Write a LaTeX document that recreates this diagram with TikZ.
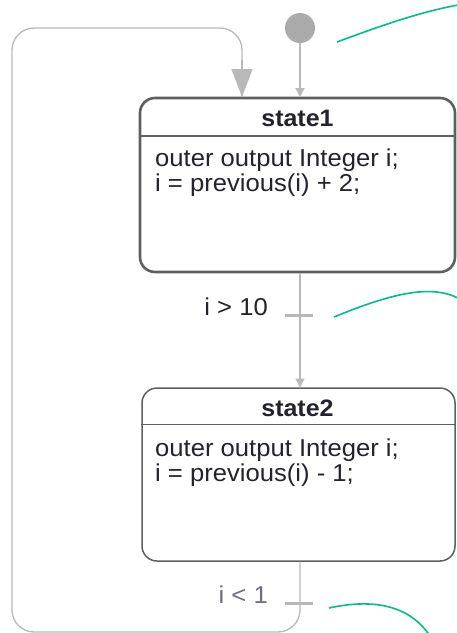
\documentclass[tikz,border=0pt]{standalone}
\usepackage{fontspec}
\setmainfont{Liberation Sans}
\newfontfamily\diafont[FakeStretch=1.05]{Liberation Sans}
\usetikzlibrary{arrows.meta}
\definecolor{bordercol}{RGB}{95,95,95}
\definecolor{linecol}{RGB}{185,185,185}
\definecolor{initcol}{RGB}{170,170,170}
\definecolor{notecol}{RGB}{0,190,140}
\definecolor{txtcol}{RGB}{35,35,45}
\definecolor{lighttxt}{RGB}{110,110,125}
\tikzset{
  statebox/.style={draw=bordercol, rounded corners=15pt, fill=white, inner sep=0pt},
  trans/.style={draw=linecol, line width=1.3pt},
  smallhead/.style={-{Triangle[width=9pt,length=9pt]}},
  bighead/.style={-{Triangle[width=21pt,length=28pt]}},
  tick/.style={draw=linecol, line width=3pt},
  note/.style={draw=notecol, line width=1.6pt},
  body/.style={font=\diafont\fontsize{24.4}{26}\selectfont, text=txtcol, inner sep=0pt},
  title/.style={font=\diafont\fontsize{23.8}{26}\selectfont\bfseries, text=txtcol, inner sep=0pt},
  guard/.style={font=\diafont\fontsize{24.4}{26}\selectfont, inner sep=0pt},
}
\begin{document}
\begin{tikzpicture}[x=1pt,y=-1pt]
\useasboundingbox (0,0) rectangle (456,633);
% states
\node[statebox, line width=2.6pt, minimum width=315pt, minimum height=174pt] (s1) at (297.5,185) {};
\node[statebox, line width=1.5pt, minimum width=313pt, minimum height=173pt] (s2) at (298.5,474.5) {};
\draw[bordercol, line width=2pt] (s1.west |- 0,135.5) coordinate (s1l) -- (s1.east |- 0,135.5) coordinate (s1r);
\draw[bordercol, line width=1.4pt] (s2.west |- 0,424.5) coordinate (s2l) -- (s2.east |- 0,424.5) coordinate (s2r);
\node[title, anchor=base] (t1) at (297.5,126.5) {state1};
\node[body, anchor=base west] (b1a) at (155,166) {outer output Integer i;};
\node[body, anchor=base west] (b1b) at (155,191) {i = previous(i) + 2;};
\node[title, anchor=base] (t2) at (297.5,416.5) {state2};
\node[body, anchor=base west] (b2a) at (155,456) {outer output Integer i;};
\node[body, anchor=base west] (b2b) at (155,481) {i = previous(i) - 1;};
% initial
\node[circle, fill=initcol, minimum size=30pt, inner sep=0pt] (init) at (300,28) {};
\coordinate (s1in) at (300,97);
\draw[trans, smallhead] (init) -- (s1in);
% transition 1
\coordinate (s1out) at (300,273);
\coordinate (s2in) at (300,387.5);
\draw[trans, smallhead] (s1out) -- (s2in);
\coordinate (tk1a) at (285,315);
\coordinate (tk1b) at (313,315);
\draw[tick] (tk1a) -- (tk1b);
\node[guard, text=txtcol, anchor=base east] (g1) at (268,315) {i > 10};
% transition 2 (loop)
\coordinate (s2out) at (300,561.5);
\coordinate (lbr) at (300,632);
\coordinate (lbl) at (12,632);
\coordinate (ltl) at (12,28);
\coordinate (ltr) at (242,28);
\coordinate (s1in2) at (242,97);
\draw[trans, rounded corners=22pt] (s2out) -- (lbr) -- (lbl) -- (ltl) -- (ltr) -- (s1in2);
\draw[trans, bighead] (242,60) -- (s1in2);
\coordinate (tk2a) at (285,603);
\coordinate (tk2b) at (313,603);
\draw[tick] (tk2a) -- (tk2b);
\node[guard, text=lighttxt, anchor=base east] (g2) at (268,603) {i < 1};
% note connectors
\coordinate (n1a) at (337,42);
\coordinate (n1b) at (458,5);
\draw[note] (n1a) .. controls (380,26) and (420,12) .. (n1b);
\coordinate (n2a) at (334,317);
\coordinate (n2b) at (458,298);
\draw[note] (n2a) .. controls (390,294) and (430,284) .. (n2b);
\coordinate (n3a) at (329,608);
\coordinate (n3b) at (430,636);
\draw[note] (n3a) .. controls (375,598) and (410,606) .. (n3b);
\end{tikzpicture}
\end{document}
